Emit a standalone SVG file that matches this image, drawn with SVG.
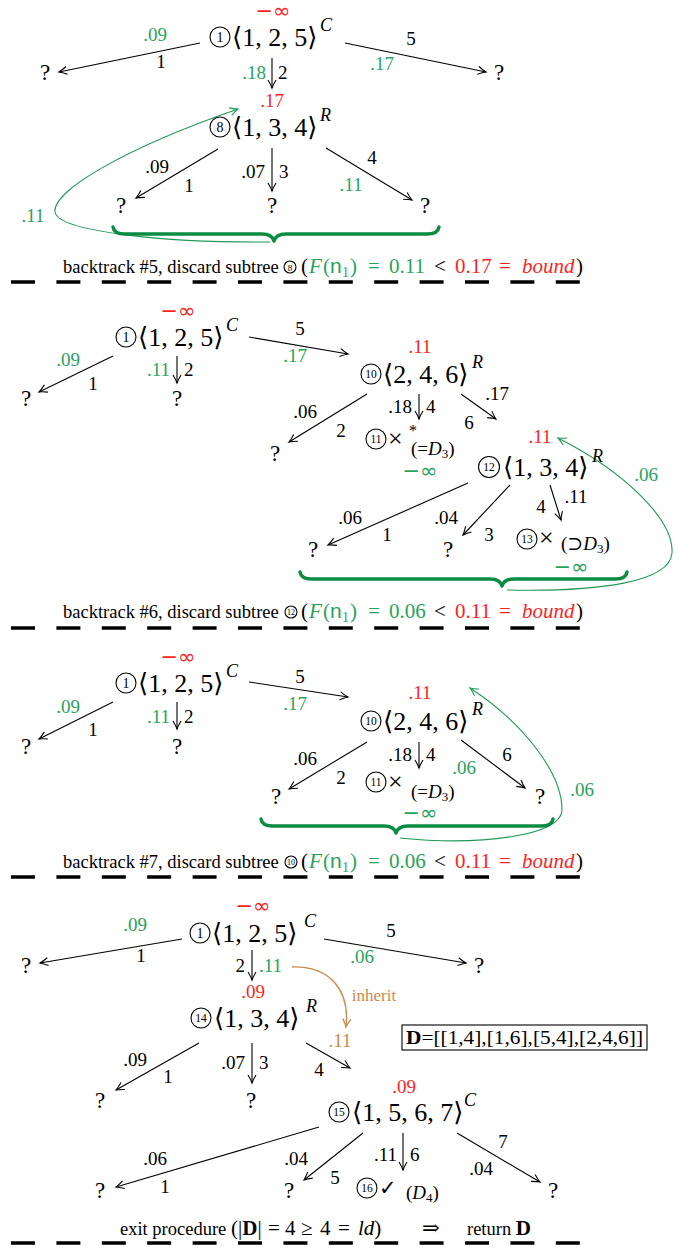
<svg xmlns="http://www.w3.org/2000/svg" width="686" height="1248" viewBox="0 0 686 1248">
<style>
text{font-family:"Liberation Serif","DejaVu Serif","DejaVu Sans",serif;fill:#000}
.nl{font-size:26px}
.cn{font-size:14px;text-anchor:middle}
.cn2{font-size:11.5px;text-anchor:middle}
.sup{font-size:18px;font-style:italic}
.l{font-size:19px;text-anchor:middle}
.le{font-size:19px;text-anchor:end}
.ls{font-size:19px}
.q{font-size:23px;text-anchor:middle}
.inf{font-family:"DejaVu Sans",sans-serif;font-size:21px;text-anchor:middle}
.g{fill:#27a35e}
.r{fill:#ff1f1f}
.br{fill:#c98a4b}
.t{font-size:18.5px}
.m{font-size:21px}
.it{font-style:italic}
.sf{font-family:"Liberation Sans",sans-serif}
.x{font-size:26px}
.sub{font-size:19px}
.circ{fill:none;stroke:#000;stroke-width:1.1}
.e{fill:none;stroke:#000;stroke-width:1.1;marker-end:url(#ah)}
.ge{fill:none;stroke:#1f9a55;stroke-width:1.1;marker-end:url(#ahg)}
.be{fill:none;stroke:#c98a4b;stroke-width:1.3;marker-end:url(#ahb)}
.brace{fill:none;stroke:#0b8c42;stroke-width:3.4;stroke-linecap:round;stroke-linejoin:round}
.dash{stroke:#000;stroke-width:3.4;stroke-dasharray:24 21.4}
</style>
<defs>
<marker id="ah" markerUnits="userSpaceOnUse" orient="auto" markerWidth="12" markerHeight="12" viewBox="-10 -6 12 12" refX="0" refY="0" overflow="visible">
<path d="M-8,-4 Q-3,-1 0,0 Q-3,1 -8,4" fill="none" stroke="#000" stroke-width="1.1"/>
</marker>
<marker id="ahg" markerUnits="userSpaceOnUse" orient="auto" markerWidth="12" markerHeight="12" viewBox="-10 -6 12 12" refX="0" refY="0" overflow="visible">
<path d="M-8,-4 Q-3,-1 0,0 Q-3,1 -8,4" fill="none" stroke="#1f9a55" stroke-width="1.1"/>
</marker>
<marker id="ahb" markerUnits="userSpaceOnUse" orient="auto" markerWidth="12" markerHeight="12" viewBox="-10 -6 12 12" refX="0" refY="0" overflow="visible">
<path d="M-8,-4 Q-3,-1 0,0 Q-3,1 -8,4" fill="none" stroke="#c98a4b" stroke-width="1.3"/>
</marker>
</defs>

<!-- ================= PANEL 1 ================= -->
<g id="p1-connectors">
<line class="e" x1="200" y1="43" x2="59" y2="72"/>
<line class="e" x1="345" y1="43" x2="486" y2="72"/>
<line class="e" x1="272" y1="58" x2="272" y2="88"/>
<line class="e" x1="218" y1="149" x2="136" y2="198"/>
<line class="e" x1="272" y1="148" x2="272" y2="191"/>
<line class="e" x1="326" y1="148" x2="412" y2="200"/>
<path class="ge" d="M270,242 C170,243 58,232 55,212 C52,192 120,150 238,109"/>
</g>
<g id="p1-labels">
<text class="l g" x="155" y="41">.09</text>
<text class="l" x="161" y="68">1</text>
<text class="l" x="411" y="45">5</text>
<text class="l g" x="382" y="70">.17</text>
<text class="le g" x="266" y="79">.18</text>
<text class="ls" x="278" y="79">2</text>
<text class="l" x="157" y="173">.09</text>
<text class="l" x="189" y="192">1</text>
<text class="le" x="265" y="178">.07</text>
<text class="ls" x="279" y="178">3</text>
<text class="l" x="372" y="164">4</text>
<text class="l g" x="351" y="191">.11</text>
<text class="l g" x="33" y="222">.11</text>
</g>
<g id="p1-n1">
<text class="inf r" x="273" y="18">−∞</text>
<circle class="circ" cx="220" cy="37" r="10"/>
<text class="cn" x="220" y="42">1</text>
<text class="nl" x="232" y="46">⟨1, 2, 5⟩</text>
<text class="sup" x="320" y="31">C</text>
</g>
<g id="p1-q1"><text class="q" x="45" y="80">?</text></g>
<g id="p1-q2"><text class="q" x="499" y="80">?</text></g>
<g id="p1-n8">
<text class="l r" x="272" y="107">.17</text>
<circle class="circ" cx="220" cy="127" r="10"/>
<text class="cn" x="220" y="132">8</text>
<text class="nl" x="232" y="136">⟨1, 3, 4⟩</text>
<text class="sup" x="320" y="121">R</text>
</g>
<g id="p1-q3"><text class="q" x="121" y="213">?</text></g>
<g id="p1-q4"><text class="q" x="272" y="213">?</text></g>
<g id="p1-q5"><text class="q" x="425" y="213">?</text></g>
<path id="p1-brace" class="brace" d="M113,227 Q114,234 125,234 L262,234 Q272,234 274,241 Q276,234 286,234 L427,234 Q438,234 439,227"/>
<g id="p1-caption">
<text class="t" x="63" y="273">backtrack #5, discard subtree</text>
<circle class="circ" cx="290" cy="267" r="6" stroke-width="0.9"/>
<text x="290" y="270.5" font-size="9" text-anchor="middle">8</text>
<text class="m"><tspan x="301" y="273">(</tspan><tspan class="g it" x="309">F</tspan><tspan class="g" x="323">(</tspan><tspan class="g sf" x="330">n</tspan><tspan class="g" x="342" y="277" font-size="14">1</tspan><tspan class="g" x="350" y="273">)</tspan><tspan class="g" x="368">=</tspan><tspan class="g" x="389">0.11</tspan><tspan x="434">&lt;</tspan><tspan class="r" x="455">0.17</tspan><tspan class="r" x="499">=</tspan><tspan class="r it" x="522">bound</tspan><tspan x="576">)</tspan></text>
</g>
<line class="dash" x1="11" y1="282" x2="581" y2="282"/>

<!-- ================= PANEL 2 ================= -->
<g id="p2-connectors">
<line class="e" x1="113" y1="356" x2="39" y2="392"/>
<line class="e" x1="177" y1="356" x2="177" y2="383"/>
<line class="e" x1="249" y1="337" x2="348" y2="354"/>
<line class="e" x1="367" y1="394" x2="289" y2="442"/>
<line class="e" x1="419" y1="394" x2="419" y2="419"/>
<line class="e" x1="461" y1="394" x2="496" y2="419"/>
<line class="e" x1="468" y1="483" x2="328" y2="545"/>
<line class="e" x1="510" y1="485" x2="463" y2="535"/>
<line class="e" x1="550" y1="485" x2="561" y2="520"/>
<path class="ge" d="M507,590 C600,592 670,582 672,553 C674,520 625,472 558,438"/>
</g>
<g id="p2-labels">
<text class="l g" x="68" y="366">.09</text>
<text class="l" x="93" y="390">1</text>
<text class="le g" x="170" y="376">.11</text>
<text class="ls" x="184" y="376">2</text>
<text class="l" x="300" y="335">5</text>
<text class="l g" x="295" y="362">.17</text>
<text class="l" x="305" y="418">.06</text>
<text class="l" x="341" y="437">2</text>
<text class="le" x="412" y="413">.18</text>
<text class="ls" x="426" y="413">4</text>
<text class="l" x="497" y="400">.17</text>
<text class="l" x="469" y="429">6</text>
<text class="l" x="350" y="524">.06</text>
<text class="l" x="387" y="541">1</text>
<text class="l" x="446" y="524">.04</text>
<text class="l" x="489" y="541">3</text>
<text class="l" x="541" y="513">4</text>
<text class="l" x="576" y="503">.11</text>
<text class="l g" x="646" y="481">.06</text>
</g>
<g id="p2-n1">
<text class="inf r" x="178" y="318">−∞</text>
<circle class="circ" cx="126" cy="337" r="10"/>
<text class="cn" x="126" y="342">1</text>
<text class="nl" x="138" y="346">⟨1, 2, 5⟩</text>
<text class="sup" x="226" y="331">C</text>
</g>
<g id="p2-q1"><text class="q" x="26" y="406">?</text></g>
<g id="p2-q2"><text class="q" x="177" y="406">?</text></g>
<g id="p2-n10">
<text class="l r" x="420" y="353">.11</text>
<circle class="circ" cx="371" cy="374" r="10"/>
<text class="cn2" x="371" y="378">10</text>
<text class="nl" x="383" y="383">⟨2, 4, 6⟩</text>
<text class="sup" x="472" y="368">R</text>
</g>
<g id="p2-q3"><text class="q" x="275" y="461">?</text></g>
<g id="p2-n11">
<circle class="circ" cx="376" cy="439" r="10"/>
<text class="cn2" x="376" y="443">11</text>
<text class="x" x="388" y="447">×</text>
<text x="409" y="436" font-size="16">*</text>
<text class="sub" x="411" y="455">(=<tspan class="it">D</tspan><tspan font-size="13" dy="3">3</tspan><tspan dy="-3">)</tspan></text>
<text class="inf g" x="420" y="478">−∞</text>
</g>
<g id="p2-n12">
<text class="l r" x="540" y="443">.11</text>
<circle class="circ" cx="489" cy="467" r="10.5"/>
<text class="cn2" x="489" y="471">12</text>
<text class="nl" x="503" y="476">⟨1, 3, 4⟩</text>
<text class="sup" x="592" y="462">R</text>
</g>
<g id="p2-q4"><text class="q" x="313" y="557">?</text></g>
<g id="p2-q5"><text class="q" x="448" y="557">?</text></g>
<g id="p2-n13">
<circle class="circ" cx="527" cy="539" r="10"/>
<text class="cn2" x="527" y="543">13</text>
<text class="x" x="539" y="546">×</text>
<text class="sub" x="561" y="550">(⊃<tspan class="it">D</tspan><tspan font-size="13" dy="3">3</tspan><tspan dy="-3">)</tspan></text>
<text class="inf g" x="571" y="574">−∞</text>
</g>
<path id="p2-brace" class="brace" d="M300,572 Q301,579 312,579 L490,579 Q500,579 502,586 Q504,579 514,579 L615,579 Q626,579 627,572"/>
<g id="p2-caption">
<text class="t" x="63" y="618">backtrack #6, discard subtree</text>
<circle class="circ" cx="291" cy="612" r="6" stroke-width="0.9"/>
<text x="291" y="615" font-size="8" text-anchor="middle">12</text>
<text class="m"><tspan x="301" y="618">(</tspan><tspan class="g it" x="309">F</tspan><tspan class="g" x="323">(</tspan><tspan class="g sf" x="330">n</tspan><tspan class="g" x="342" y="622" font-size="14">1</tspan><tspan class="g" x="350" y="618">)</tspan><tspan class="g" x="368">=</tspan><tspan class="g" x="389">0.06</tspan><tspan x="434">&lt;</tspan><tspan class="r" x="455">0.11</tspan><tspan class="r" x="499">=</tspan><tspan class="r it" x="522">bound</tspan><tspan x="576">)</tspan></text>
</g>
<line class="dash" x1="11" y1="628" x2="581" y2="628"/>

<!-- ================= PANEL 3 ================= -->
<g id="p3-connectors">
<line class="e" x1="113" y1="702" x2="39" y2="739"/>
<line class="e" x1="177" y1="702" x2="177" y2="729"/>
<line class="e" x1="249" y1="682" x2="348" y2="697"/>
<line class="e" x1="367" y1="742" x2="289" y2="789"/>
<line class="e" x1="419" y1="742" x2="419" y2="768"/>
<line class="e" x1="461" y1="740" x2="525" y2="788"/>
<path class="ge" d="M400,838 C480,846 562,836 562,810 C562,772 522,722 470,688"/>
</g>
<g id="p3-labels">
<text class="l g" x="68" y="713">.09</text>
<text class="l" x="93" y="736">1</text>
<text class="le g" x="170" y="723">.11</text>
<text class="ls" x="184" y="723">2</text>
<text class="l" x="300" y="683">5</text>
<text class="l g" x="295" y="710">.17</text>
<text class="l" x="305" y="765">.06</text>
<text class="l" x="341" y="784">2</text>
<text class="le" x="412" y="761">.18</text>
<text class="ls" x="426" y="761">4</text>
<text class="l" x="507" y="761">6</text>
<text class="l g" x="464" y="774">.06</text>
<text class="l g" x="582" y="796">.06</text>
</g>
<g id="p3-n1">
<text class="inf r" x="178" y="664">−∞</text>
<circle class="circ" cx="126" cy="683" r="10"/>
<text class="cn" x="126" y="688">1</text>
<text class="nl" x="138" y="692">⟨1, 2, 5⟩</text>
<text class="sup" x="226" y="677">C</text>
</g>
<g id="p3-q1"><text class="q" x="26" y="754">?</text></g>
<g id="p3-q2"><text class="q" x="177" y="754">?</text></g>
<g id="p3-n10">
<text class="l r" x="420" y="699">.11</text>
<circle class="circ" cx="371" cy="721" r="10"/>
<text class="cn2" x="371" y="725">10</text>
<text class="nl" x="383" y="730">⟨2, 4, 6⟩</text>
<text class="sup" x="472" y="715">R</text>
</g>
<g id="p3-q3"><text class="q" x="276" y="804">?</text></g>
<g id="p3-n11">
<circle class="circ" cx="376" cy="782" r="10"/>
<text class="cn2" x="376" y="786">11</text>
<text class="x" x="388" y="790">×</text>
<text class="sub" x="411" y="798">(=<tspan class="it">D</tspan><tspan font-size="13" dy="3">3</tspan><tspan dy="-3">)</tspan></text>
<text class="inf g" x="420" y="820">−∞</text>
</g>
<g id="p3-q4"><text class="q" x="540" y="804">?</text></g>
<path id="p3-brace" class="brace" d="M261,819 Q262,826 273,826 L384,826 Q394,826 396,833 Q398,826 408,826 L541,826 Q552,826 553,819"/>
<g id="p3-caption">
<text class="t" x="63" y="868">backtrack #7, discard subtree</text>
<circle class="circ" cx="291" cy="862" r="6" stroke-width="0.9"/>
<text x="291" y="865" font-size="8" text-anchor="middle">10</text>
<text class="m"><tspan x="301" y="868">(</tspan><tspan class="g it" x="309">F</tspan><tspan class="g" x="323">(</tspan><tspan class="g sf" x="330">n</tspan><tspan class="g" x="342" y="872" font-size="14">1</tspan><tspan class="g" x="350" y="868">)</tspan><tspan class="g" x="368">=</tspan><tspan class="g" x="389">0.06</tspan><tspan x="434">&lt;</tspan><tspan class="r" x="455">0.11</tspan><tspan class="r" x="499">=</tspan><tspan class="r it" x="522">bound</tspan><tspan x="576">)</tspan></text>
</g>
<line class="dash" x1="11" y1="877" x2="581" y2="877"/>

<!-- ================= PANEL 4 ================= -->
<g id="p4-connectors">
<line class="e" x1="182" y1="939" x2="40" y2="963"/>
<line class="e" x1="324" y1="939" x2="466" y2="963"/>
<line class="e" x1="252" y1="950" x2="252" y2="980"/>
<path class="be" d="M292,967 C330,966 350,990 346,1027"/>
<line class="e" x1="199" y1="1043" x2="116" y2="1090"/>
<line class="e" x1="252" y1="1043" x2="252" y2="1083"/>
<line class="e" x1="306" y1="1043" x2="350" y2="1068"/>
<line class="e" x1="319" y1="1127" x2="116" y2="1187"/>
<line class="e" x1="363" y1="1133" x2="304" y2="1180"/>
<line class="e" x1="403" y1="1133" x2="403" y2="1170"/>
<line class="e" x1="457" y1="1133" x2="540" y2="1182"/>
</g>
<g id="p4-labels">
<text class="l g" x="135" y="931">.09</text>
<text class="l" x="141" y="962">1</text>
<text class="l" x="391" y="937">5</text>
<text class="l g" x="362" y="963">.06</text>
<text class="le" x="245" y="972">2</text>
<text class="ls g" x="259" y="972">.11</text>
<text x="374" y="1001" font-size="17" text-anchor="middle" class="br">inherit</text>
<text class="l br" x="340" y="1047">.11</text>
<text class="l" x="135" y="1066">.09</text>
<text class="l" x="168" y="1083">1</text>
<text class="le" x="245" y="1069">.07</text>
<text class="ls" x="259" y="1069">3</text>
<text class="l" x="319" y="1076">4</text>
<text class="l" x="155" y="1165">.06</text>
<text class="l" x="165" y="1193">1</text>
<text class="l" x="296" y="1165">.04</text>
<text class="l" x="335" y="1184">5</text>
<text class="le" x="397" y="1161">.11</text>
<text class="ls" x="410" y="1161">6</text>
<text class="l" x="503" y="1148">7</text>
<text class="l" x="481" y="1175">.04</text>
</g>
<g id="p4-n1">
<text class="inf r" x="253" y="913">−∞</text>
<circle class="circ" cx="200" cy="933" r="10"/>
<text class="cn" x="200" y="938">1</text>
<text class="nl" x="212" y="942">⟨1, 2, 5⟩</text>
<text class="sup" x="304" y="927">C</text>
</g>
<g id="p4-q1"><text class="q" x="26" y="973">?</text></g>
<g id="p4-q2"><text class="q" x="479" y="973">?</text></g>
<g id="p4-n14">
<text class="l r" x="253" y="998">.09</text>
<circle class="circ" cx="201" cy="1018" r="10"/>
<text class="cn2" x="201" y="1022">14</text>
<text class="nl" x="214" y="1027">⟨1, 3, 4⟩</text>
<text class="sup" x="306" y="1012">R</text>
</g>
<g id="p4-D">
<rect x="402" y="1025" width="245" height="25" fill="none" stroke="#000" stroke-width="1.1"/>
<text x="406" y="1044" font-size="19" textLength="237" lengthAdjust="spacingAndGlyphs"><tspan font-weight="bold">D</tspan>=[[1,4],[1,6],[5,4],[2,4,6]]</text>
</g>
<g id="p4-q3"><text class="q" x="100" y="1108">?</text></g>
<g id="p4-q4"><text class="q" x="251" y="1108">?</text></g>
<g id="p4-n15">
<text class="l r" x="404" y="1093">.09</text>
<circle class="circ" cx="339" cy="1112" r="10"/>
<text class="cn2" x="339" y="1116">15</text>
<text class="nl" x="352" y="1121">⟨1, 5, 6, 7⟩</text>
<text class="sup" x="464" y="1106">C</text>
</g>
<g id="p4-q5"><text class="q" x="100" y="1198">?</text></g>
<g id="p4-q6"><text class="q" x="289" y="1198">?</text></g>
<g id="p4-n16">
<circle class="circ" cx="367" cy="1188" r="10"/>
<text class="cn2" x="367" y="1192">16</text>
<text x="379" y="1195" font-size="21" font-family="DejaVu Sans, sans-serif" font-weight="bold">✓</text>
<text class="sub" x="406" y="1199">(<tspan class="it">D</tspan><tspan font-size="13" dy="3">4</tspan><tspan dy="-3">)</tspan></text>
</g>
<g id="p4-q7"><text class="q" x="553" y="1198">?</text></g>
<g id="p4-caption">
<text class="t" x="120" y="1235">exit procedure</text>
<text class="m"><tspan x="231" y="1235">(|</tspan><tspan font-weight="bold">D</tspan><tspan>|</tspan><tspan x="268">=</tspan><tspan x="285">4</tspan><tspan x="301">≥</tspan><tspan x="320">4</tspan><tspan x="338">=</tspan><tspan class="it" x="358">ld</tspan><tspan>)</tspan><tspan x="422">⇒</tspan></text>
<text class="t" x="467" y="1235">return <tspan font-weight="bold" font-size="21">D</tspan></text>
</g>
<line class="dash" x1="11" y1="1243" x2="581" y2="1243"/>
</svg>
